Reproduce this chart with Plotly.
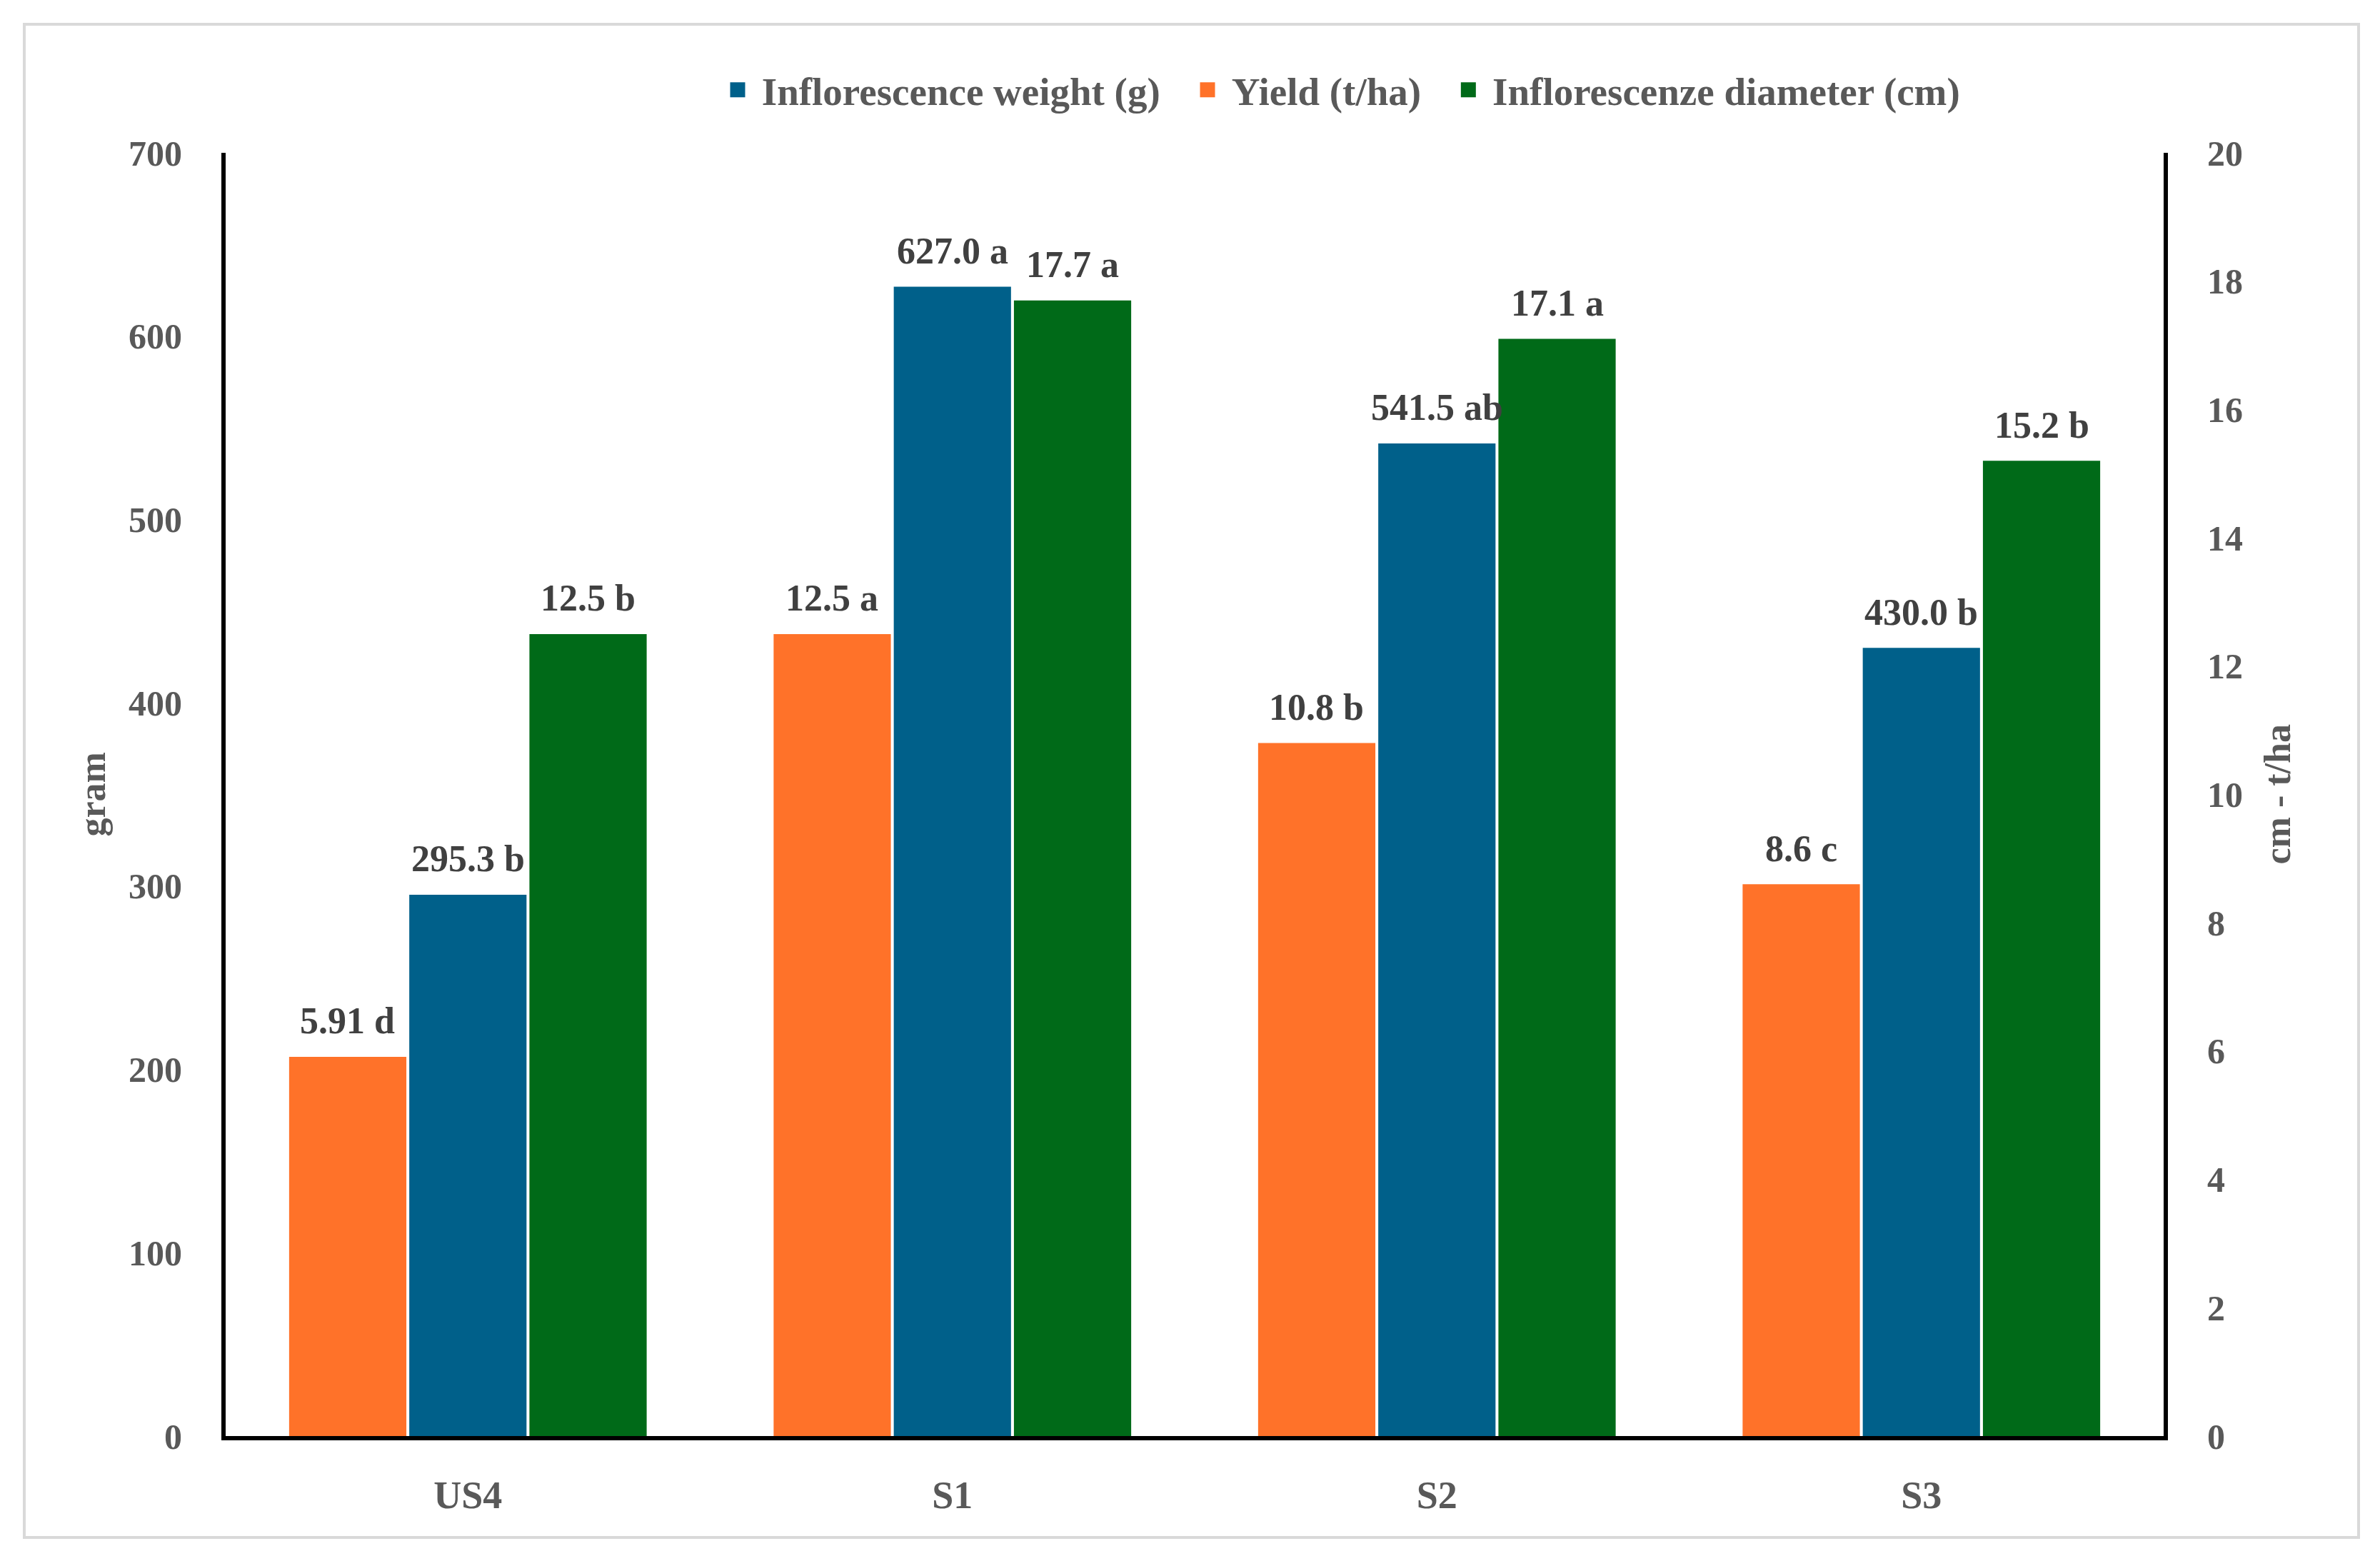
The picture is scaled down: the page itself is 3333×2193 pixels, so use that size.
import plotly.graph_objects as go

categories = ["US4", "S1", "S2", "S3"]
weight_g = [295.3, 627.0, 541.5, 430.0]
yield_tha = [5.91, 12.5, 10.8, 8.6]
diameter_cm = [12.5, 17.7, 17.1, 15.2]

weight_labels = ["295.3 b", "627.0 a", "541.5 ab", "430.0 b"]
yield_labels = ["5.91 d", "12.5 a", "10.8 b", "8.6 c"]
diameter_labels = ["12.5 b", "17.7 a", "17.1 a", "15.2 b"]

left_ticks = list(range(0, 701, 100))
right_ticks = list(range(0, 21, 2))

FONT = "Liberation Serif"
GRAY = "#595959"
DARK = "#404040"

W, H = 3333, 2193
ML, MR, MT, MB = 308, 311, 206, 190

bar_w = 0.242
series = [
    # name, values, labels, colour, axis, offset
    ("Inflorescence weight (g)", weight_g, weight_labels, "#00608A", "y", -0.121),
    ("Yield (t/ha)", yield_tha, yield_labels, "#FF7229", "y2", -0.369),
    ("Inflorescenze diameter (cm)", diameter_cm, diameter_labels, "#006A18", "y2", 0.127),
]

fig = go.Figure()
annotations = []
for name, vals, labels, colour, axis, off in series:
    fig.add_trace(go.Bar(
        x=categories, y=vals, name=name, yaxis=axis, showlegend=False,
        marker=dict(color=colour, line=dict(width=0)),
        width=bar_w, offset=off,
    ))
    for i, (v, lab) in enumerate(zip(vals, labels)):
        annotations.append(dict(
            x=i + off + bar_w / 2, y=v, xref="x", yref=axis,
            text=lab, showarrow=False, yanchor="middle", yshift=50,
            font=dict(family=FONT, size=52, color=DARK, weight="bold"),
        ))

# legend entries with larger square swatches (nbsp padding for spacing)
pad = "\u00a0"
for name, vals, labels, colour, axis, off in series:
    fig.add_trace(go.Scatter(
        x=[None], y=[None], mode="markers", name=pad + name + pad * 3,
        marker=dict(symbol="square", size=16, color=colour,
                    line=dict(color=colour, width=5)),
    ))

plot_w = W - ML - MR
plot_h = H - MT - MB

# axis titles
annotations.append(dict(
    x=(121 - ML) / plot_w, y=0.5, xref="paper", yref="paper", text="gram",
    textangle=-90, showarrow=False, xanchor="center", yanchor="middle",
    font=dict(family=FONT, size=52, color=GRAY, weight="bold"),
))
annotations.append(dict(
    x=(3181 - ML) / plot_w, y=0.5, xref="paper", yref="paper", text="cm - t/ha",
    textangle=-90, showarrow=False, xanchor="center", yanchor="middle",
    font=dict(family=FONT, size=52, color=GRAY, weight="bold"),
))

ytick_font = dict(family=FONT, size=50, color=GRAY, weight="bold")
xtick_font = dict(family=FONT, size=54, color=GRAY, weight="bold")

fig.update_layout(
    width=W, height=H,
    margin=dict(l=ML, r=MR, t=MT, b=MB),
    plot_bgcolor="white", paper_bgcolor="white",
    barmode="overlay",
    showlegend=True,
    legend=dict(
        orientation="h", x=(1005 - ML) / plot_w, y=(H - MB - 118) / plot_h,
        xanchor="left", yanchor="middle", traceorder="normal",
        font=dict(family=FONT, size=55, color=GRAY, weight="bold"),
        itemwidth=30,
    ),
    xaxis=dict(
        type="category", range=[-0.5, 3.5],
        showline=True, linecolor="black", linewidth=6,
        showgrid=False, ticks="", tickfont=xtick_font, ticklabelstandoff=30,
    ),
    yaxis=dict(
        range=[0, 700], tickvals=left_ticks, showline=True, linecolor="black",
        linewidth=6, showgrid=False, zeroline=False, ticks="",
        tickfont=ytick_font, ticklabelstandoff=45,
    ),
    yaxis2=dict(
        range=[0, 20], tickvals=right_ticks, overlaying="y", side="right",
        showline=True, linecolor="black", linewidth=6, showgrid=False,
        zeroline=False, ticks="", tickfont=ytick_font, ticklabelstandoff=45,
    ),
    annotations=annotations,
    shapes=[dict(
        type="rect", xref="paper", yref="paper",
        x0=(26 - ML) / plot_w, x1=(3295 - ML) / plot_w,
        y0=(H - MB - 2145) / plot_h, y1=(H - MB - 26) / plot_h,
        line=dict(color="#D9D9D9", width=4), layer="below",
    )],
)

fig.write_html("out.html")
